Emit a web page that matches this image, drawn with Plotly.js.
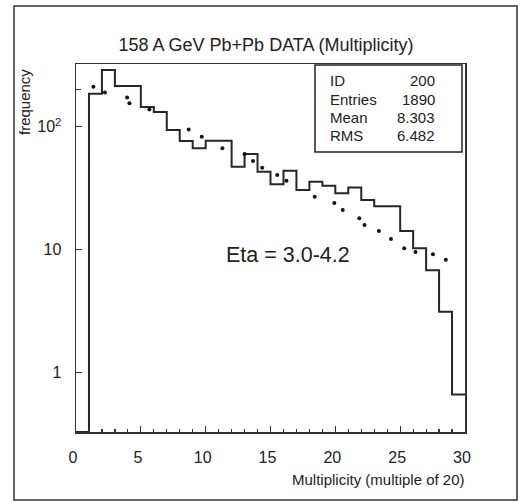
<!DOCTYPE html>
<html>
<head>
<meta charset="utf-8">
<script src="https://cdn.plot.ly/plotly-3.0.1.min.js"></script>
<style>
  html, body { margin: 0; padding: 0; background: #fff; }
  #chart { width: 525px; height: 503px; }
</style>
</head>
<body>
<div id="chart"></div>
<script>
// Histogram: bin edges 0..30, one count per unit-wide bin
const binEdges = [0, 1, 2, 3, 4, 5, 6, 7, 8, 9, 10, 11, 12, 13, 14, 15,
                  16, 17, 18, 19, 20, 21, 22, 23, 24, 25, 26, 27, 28, 29, 30];
const binCounts = [0, 185, 289, 214, 214, 145, 132, 94, 76.5, 66.7, 76.9, 76.9,
                   47.3, 60, 43, 34, 43.9, 30.6, 35.7, 33.1, 28.8, 32.1, 25.4,
                   22.6, 22.6, 14.2, 10.3, 6.8, 3.13, 0.665];

// Overlaid points
const dotX = [1.34, 2.23, 3.94, 4.12, 5.66, 8.69, 9.70, 11.29, 13.0, 13.65, 14.36,
              15.52, 16.23, 18.41, 19.92, 20.57, 21.85, 22.25, 23.36, 24.29, 25.31,
              26.18, 27.53, 28.52];
const dotY = [211, 190, 173, 155, 138, 95, 83, 66.7, 60, 52.6, 46.4,
              40.5, 36.4, 27, 24, 21, 18, 15.9, 14.2, 12.2, 10.3,
              9.6, 9.2, 8.3];

// Statistics box
const statLabels = ['ID', 'Entries', 'Mean', 'RMS'];
const statValues = ['200', '1890', '8.303', '6.482'];

// Axis ticks
const yTickVals = [1, 10, 100];
const yTickText = ['1', '10', '10<sup>2</sup>'];
const yMinorVals = [200];
const xTickVals = [0, 5, 10, 15, 20, 25, 30];
const xTickText = ['0', '5', '10', '15', '20', '25', '30'];

const W = 525, H = 503;
const M = { l: 76, r: 60, t: 64, b: 71 };
const PW = W - M.l - M.r, PH = H - M.t - M.b;
const px = v => (v - M.l) / PW;          // pixel x -> paper x
const py = v => (H - M.b - v) / PH;      // pixel y -> paper y

const yRange = [-0.482, 2.51];
const floorVal = Math.pow(10, yRange[0]);

// Step outline: empty bins sit on the bottom of the frame
const stepX = binEdges.slice();
const stepY = binCounts.map(c => (c > 0 ? c : floorVal));
stepY.push(stepY[stepY.length - 1]);

const FONT = '"Liberation Sans", Arial, sans-serif';
const INK = '#222';

const traces = [
  {
    x: stepX, y: stepY, type: 'scatter', mode: 'lines',
    line: { shape: 'hv', color: '#262626', width: 2 },
    hoverinfo: 'skip', showlegend: false
  },
  {
    x: dotX, y: dotY, type: 'scatter', mode: 'markers',
    marker: { color: '#111', size: 4 },
    showlegend: false
  }
];

const annotations = [
  {
    text: 'Multiplicity (multiple of 20)', xref: 'paper', yref: 'paper',
    x: px(467), y: py(480), xanchor: 'right', yanchor: 'middle',
    showarrow: false, font: { family: FONT, size: 15, color: INK }
  },
  {
    text: 'frequency', xref: 'paper', yref: 'paper',
    x: px(24), y: py(102), xanchor: 'center', yanchor: 'middle', textangle: -90,
    showarrow: false, font: { family: FONT, size: 15, color: INK }
  },
  {
    text: 'Eta = 3.0-4.2', xref: 'paper', yref: 'paper',
    x: px(288), y: py(255), xanchor: 'center', yanchor: 'middle',
    showarrow: false, font: { family: FONT, size: 21.5, color: INK }
  }
];

const rowY = [80.7, 99.3, 117.7, 135.7];
statLabels.forEach((lab, i) => {
  annotations.push({
    text: lab, xref: 'paper', yref: 'paper', x: px(328), y: py(rowY[i]),
    xanchor: 'left', yanchor: 'middle', showarrow: false,
    font: { family: FONT, size: 15, color: INK }
  });
  annotations.push({
    text: statValues[i], xref: 'paper', yref: 'paper', x: px(437), y: py(rowY[i]),
    xanchor: 'right', yanchor: 'middle', showarrow: false,
    font: { family: FONT, size: 15, color: INK }
  });
});

const layout = {
  width: W, height: H,
  margin: M,
  paper_bgcolor: '#fff', plot_bgcolor: '#fff',
  font: { family: FONT, color: INK },
  title: {
    text: '158 A GeV Pb+Pb DATA (Multiplicity)',
    font: { family: FONT, size: 18, color: INK },
    xref: 'container', yref: 'container',
    x: 266 / W, y: 1 - 45 / H, xanchor: 'center', yanchor: 'middle'
  },
  xaxis: {
    range: [0, 30], showgrid: false, zeroline: false,
    showline: true, mirror: true, linecolor: '#333', linewidth: 1.5,
    tickmode: 'array', tickvals: xTickVals, ticktext: xTickText,
    ticks: 'inside', ticklen: 6, tickwidth: 1.2, tickcolor: '#333',
    minor: { dtick: 1, ticks: 'inside', ticklen: 3, tickwidth: 1.2, tickcolor: '#333' },
    tickfont: { family: FONT, size: 16, color: INK },
    ticklabelstandoff: 10, ticklabelshift: -3
  },
  yaxis: {
    type: 'log', range: yRange, showgrid: false, zeroline: false,
    showline: true, mirror: true, linecolor: '#333', linewidth: 1.5,
    tickmode: 'array', tickvals: yTickVals, ticktext: yTickText,
    ticks: 'inside', ticklen: 6, tickwidth: 1.2, tickcolor: '#333',
    minor: { tickmode: 'array', tickvals: yMinorVals, ticks: 'inside',
             ticklen: 5, tickwidth: 1.2, tickcolor: '#333' },
    tickfont: { family: FONT, size: 16, color: INK },
    ticklabelstandoff: 10
  },
  shapes: [
    {
      type: 'rect', xref: 'paper', yref: 'paper',
      x0: px(14), x1: px(517), y0: py(500), y1: py(6),
      line: { color: '#333', width: 1.5 }, layer: 'below'
    },
    {
      type: 'rect', xref: 'paper', yref: 'paper',
      x0: px(315), x1: px(462), y0: py(152), y1: py(65),
      line: { color: '#222', width: 1.5 }, fillcolor: 'rgba(0,0,0,0)'
    }
  ],
  annotations: annotations,
  showlegend: false
};

Plotly.newPlot('chart', traces, layout, { displayModeBar: false, staticPlot: true });
</script>
</body>
</html>
